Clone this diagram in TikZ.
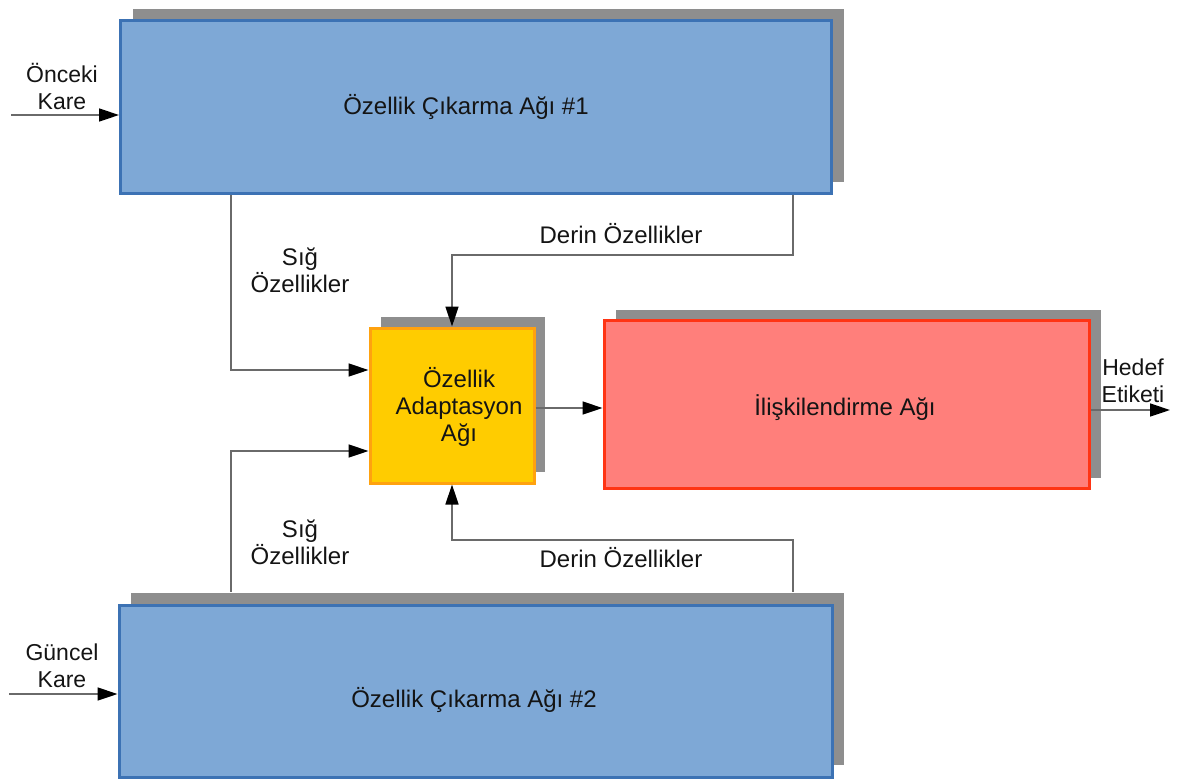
\documentclass[tikz,border=0pt]{standalone}
\usepackage{fontspec}
\setmainfont{Liberation Sans}
\usetikzlibrary{arrows.meta,shadows}
\definecolor{extfill}{HTML}{7EA8D6}
\definecolor{extline}{HTML}{3C72B4}
\definecolor{adfill}{HTML}{FFCC00}
\definecolor{adline}{HTML}{FFA20F}
\definecolor{asfill}{HTML}{FF7F7B}
\definecolor{asline}{HTML}{FF3414}
\definecolor{shadegray}{HTML}{8E8E8E}
\definecolor{wire}{HTML}{6A6A6A}
\tikzset{
  every node/.style={font=\fontsize{24}{27}\selectfont, text=black!92},
  extractbox/.style={rectangle, draw=extline, fill=extfill, line width=3pt, inner sep=0pt,
    drop shadow={shadow xshift=12pt, shadow yshift=12pt, opacity=1, fill=shadegray}},
  adaptbox/.style={rectangle, draw=adline, fill=adfill, line width=3pt, inner sep=0pt,
    drop shadow={shadow xshift=11pt, shadow yshift=11pt, opacity=1, fill=shadegray}},
  assocbox/.style={rectangle, draw=asline, fill=asfill, line width=3pt, inner sep=0pt,
    drop shadow={shadow xshift=12pt, shadow yshift=10pt, opacity=1, fill=shadegray}},
  link/.style={draw=wire, line width=1.5pt, -{Triangle[length=20pt,width=13pt,color=black]}},
  lbl/.style={align=center, inner sep=0pt},
  sidelbl/.style={lbl, font=\fontsize{23}{27}\selectfont},
}
\begin{document}
\begin{tikzpicture}[x=1pt, y=-1pt]
\useasboundingbox (0,0) rectangle (1177,782);

% feature extraction networks
\node[extractbox, minimum width=711pt, minimum height=173pt] (b1) at (476,107) {};
\node[extractbox, minimum width=713pt, minimum height=172pt] (b2) at (475.5,691) {};
\node[lbl] (b1t) at (466,107) {Özellik Çıkarma Ağı \#1};
\node[lbl] (b2t) at (474,700) {Özellik Çıkarma Ağı \#2};

% adaptation and association networks
\node[adaptbox, minimum width=164pt, minimum height=155pt] (ad) at (452,405.5) {};
\node[lbl] (adt) at (459,407) {Özellik\\ Adaptasyon\\ Ağı};
\node[assocbox, minimum width=485pt, minimum height=168pt] (rd) at (846.5,404) {};
\node[lbl] (rdt) at (845,408) {İlişkilendirme Ağı};

% free ends and bend columns
\coordinate (in1) at (11,115);
\coordinate (in2) at (9,694);
\coordinate (out) at (1170,410);
\coordinate (sx) at (231,0);
\coordinate (dx) at (793,0);

% feature paths into the adaptation network
\draw[link] (b1.south -| sx) |- (ad.west |- 0,370);
\draw[link] ([yshift=12pt]b2.north -| sx) |- (ad.west |- 0,451);
\draw[link] (b1.south -| dx) -- (dx |- 0,255) -| (ad.north);
\draw[link] ([yshift=12pt]b2.north -| dx) -- (dx |- 0,540) -| (ad.south);

% inputs and output
\draw[link] (in1) -- (b1.west |- in1);
\draw[link] (in2) -- (b2.west |- in2);
\draw[link] (ad.east |- 0,408) -- (rd.west |- 0,408);
\draw[link] (rd.east |- out) -- (out);

% connector labels
\node[sidelbl] (l1) at (62,86) {Önceki\\Kare};
\node[sidelbl] (l2) at (62,666) {Güncel\\Kare};
\node[sidelbl] (l3) at (1133,381) {Hedef\\Etiketi};
\node[lbl] (l4) at (300,270) {Sığ\\Özellikler};
\node[lbl] (l5) at (300,542) {Sığ\\Özellikler};
\node[lbl] (l6) at (621,234) {Derin Özellikler};
\node[lbl] (l7) at (621,558) {Derin Özellikler};
\end{tikzpicture}
\end{document}
